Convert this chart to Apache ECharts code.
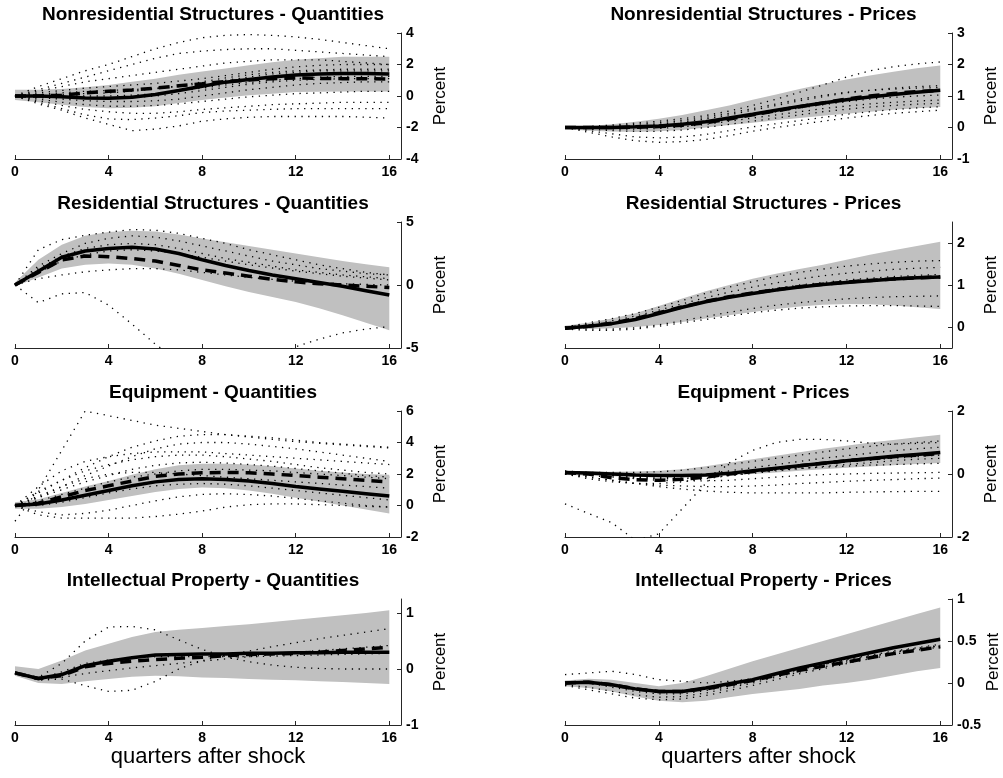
<!DOCTYPE html>
<html>
<head>
<meta charset="utf-8">
<script src="https://cdn.jsdelivr.net/npm/echarts@6/dist/echarts.min.js"></script>
<style>
  html, body { margin: 0; padding: 0; background: #fff; }
  #chart { width: 1003px; height: 778px; }
</style>
</head>
<body>
<div id="chart"></div>
<script>
// Horizon in quarters and tick labels
const quarters = [0,1,2,3,4,5,6,7,8,9,10,11,12,13,14,15,16];
const xTicks = [0, 4, 8, 12, 16];

// ---------- Nonresidential Structures - Quantities ----------
const nsqLow    = [-0.25,-0.4,-0.55,-0.7,-0.77,-0.75,-0.65,-0.45,-0.25,-0.1,0.05,0.15,0.25,0.27,0.28,0.28,0.28];
const nsqHigh   = [0.4,0.4,0.45,0.55,0.7,0.9,1.1,1.35,1.55,1.75,1.95,2.15,2.3,2.4,2.5,2.5,2.5];
const nsqSolid  = [0,0,-0.05,-0.12,-0.15,-0.08,0.1,0.35,0.62,0.88,1.05,1.2,1.33,1.4,1.43,1.43,1.4];
const nsqDashed = [0,0,0.05,0.2,0.3,0.38,0.5,0.65,0.78,0.92,1.02,1.1,1.15,1.12,1.1,1.1,1.07];
const nsqDotted = [
  [0,0.6,1.1,1.6,2.0,2.5,3.0,3.4,3.7,3.85,3.9,3.85,3.75,3.6,3.4,3.2,3.0],
  [0,0.4,0.8,1.2,1.6,2.0,2.4,2.7,2.85,2.95,3.0,3.0,2.9,2.8,2.7,2.6,2.5],
  [0,0.3,0.6,0.9,1.1,1.3,1.5,1.7,1.9,2.1,2.2,2.3,2.3,2.3,2.2,2.1,2.0],
  [0,0.2,0.35,0.5,0.6,0.7,0.8,0.95,1.1,1.3,1.5,1.7,1.85,1.95,2.0,2.0,2.0],
  [0,0.1,0.2,0.3,0.35,0.4,0.5,0.6,0.8,1.0,1.2,1.4,1.5,1.6,1.6,1.6,1.6],
  [0,0.05,0.1,0.15,0.2,0.3,0.45,0.65,0.9,1.15,1.35,1.5,1.6,1.65,1.7,1.7,1.7],
  [0,0,0,0,0,0.05,0.15,0.3,0.5,0.7,0.85,1.0,1.1,1.2,1.25,1.25,1.25],
  [0,-0.05,-0.1,-0.15,-0.15,-0.1,0,0.15,0.35,0.55,0.75,0.9,1.0,1.05,1.1,1.1,1.1],
  [0,-0.1,-0.2,-0.3,-0.35,-0.35,-0.3,-0.2,0,0.2,0.4,0.55,0.7,0.8,0.85,0.9,0.9],
  [0,-0.2,-0.4,-0.55,-0.65,-0.65,-0.6,-0.5,-0.35,-0.2,-0.05,0.05,0.15,0.2,0.25,0.3,0.3],
  [0,-0.3,-0.6,-0.85,-1.0,-1.1,-1.1,-1.0,-0.85,-0.75,-0.65,-0.55,-0.5,-0.45,-0.4,-0.4,-0.4],
  [0,-0.4,-0.8,-1.2,-1.45,-1.5,-1.4,-1.25,-1.05,-0.95,-0.9,-0.85,-0.8,-0.8,-0.8,-0.8,-0.8],
  [0,-0.5,-0.9,-1.4,-1.8,-2.2,-2.1,-1.9,-1.6,-1.45,-1.35,-1.3,-1.3,-1.3,-1.3,-1.35,-1.4]
];
const nsqYTicks = [-4, -2, 0, 2, 4];

// ---------- Nonresidential Structures - Prices ----------
const nspLow    = [-0.05,-0.1,-0.13,-0.14,-0.12,-0.08,0,0.08,0.15,0.23,0.3,0.37,0.44,0.5,0.56,0.61,0.65];
const nspHigh   = [0.02,0.05,0.1,0.18,0.28,0.4,0.55,0.7,0.88,1.05,1.22,1.38,1.52,1.65,1.77,1.88,1.97];
const nspSolid  = [0,0,0,0.02,0.05,0.1,0.18,0.3,0.42,0.55,0.67,0.78,0.88,0.97,1.05,1.12,1.18];
const nspDashed = [0,0,0,0.01,0.03,0.07,0.15,0.27,0.4,0.53,0.66,0.78,0.9,1.0,1.08,1.14,1.18];
const nspDotted = [
  [0,0.03,0.08,0.14,0.2,0.28,0.38,0.52,0.7,0.9,1.12,1.35,1.6,1.8,1.93,2.02,2.08],
  [0,0.02,0.05,0.1,0.15,0.22,0.32,0.45,0.6,0.75,0.9,1.02,1.12,1.18,1.22,1.25,1.27],
  [0,0,0.02,0.05,0.1,0.17,0.27,0.4,0.55,0.7,0.85,0.98,1.1,1.18,1.25,1.3,1.33],
  [0,0,0,0.02,0.05,0.1,0.17,0.27,0.38,0.5,0.62,0.72,0.82,0.9,0.96,1.0,1.03],
  [0,-0.03,-0.05,-0.05,-0.03,0.02,0.1,0.2,0.3,0.4,0.5,0.6,0.68,0.75,0.8,0.84,0.87],
  [0,-0.05,-0.1,-0.12,-0.12,-0.08,0,0.1,0.2,0.3,0.4,0.5,0.58,0.65,0.7,0.74,0.77],
  [0,-0.1,-0.2,-0.3,-0.33,-0.3,-0.22,-0.1,0.02,0.12,0.22,0.32,0.42,0.5,0.57,0.62,0.66],
  [0,-0.15,-0.3,-0.42,-0.47,-0.45,-0.38,-0.26,-0.12,0,0.1,0.2,0.3,0.38,0.45,0.5,0.55]
];
const nspYTicks = [-1, 0, 1, 2, 3];

// ---------- Residential Structures - Quantities ----------
const rsqLow    = [-0.1,0.6,1.3,1.6,1.7,1.6,1.3,0.9,0.4,-0.1,-0.55,-0.95,-1.35,-1.85,-2.4,-3.0,-3.6];
const rsqHigh   = [0.2,2.0,3.2,3.9,4.2,4.3,4.25,4.0,3.7,3.4,3.1,2.8,2.5,2.2,1.9,1.65,1.4];
const rsqSolid  = [0,1.1,2.2,2.7,2.9,3.0,2.85,2.5,2.0,1.55,1.15,0.8,0.5,0.2,-0.1,-0.45,-0.8];
const rsqDashed = [0,1.0,2.0,2.3,2.25,2.1,1.9,1.55,1.2,0.95,0.7,0.45,0.25,0.1,0.0,-0.1,-0.2];
const rsqDotted = [
  [0,2.8,3.6,3.95,4.2,4.4,4.35,4.1,3.7,3.3,2.8,2.4,2.0,1.6,1.3,1.0,0.8],
  [0,1.5,2.5,3.3,3.7,3.9,3.8,3.5,3.1,2.7,2.3,1.9,1.6,1.3,1.1,0.9,0.8],
  [0,1.3,2.3,2.9,3.2,3.3,3.2,2.9,2.5,2.1,1.8,1.5,1.2,1.0,0.8,0.65,0.5],
  [0,1.0,1.9,2.4,2.7,2.8,2.7,2.5,2.2,1.9,1.6,1.35,1.1,0.9,0.7,0.55,0.4],
  [0,0.5,0.8,1.05,1.2,1.3,1.3,1.2,1.0,0.8,0.6,0.45,0.3,0.2,0.1,0.05,0.0],
  [0,-1.4,-0.7,-0.6,-1.6,-3.1,-4.7,-6.0,-6.8,-7.0,-6.6,-5.8,-4.9,-4.3,-3.8,-3.5,-3.3]
];
const rsqYTicks = [-5, 0, 5];

// ---------- Residential Structures - Prices ----------
const rspLow    = [-0.05,-0.05,-0.03,0,0.05,0.12,0.2,0.28,0.36,0.43,0.49,0.53,0.55,0.54,0.51,0.47,0.43];
const rspHigh   = [0.03,0.1,0.2,0.33,0.5,0.68,0.85,1.0,1.15,1.27,1.38,1.48,1.6,1.72,1.83,1.93,2.03];
const rspSolid  = [-0.03,0.02,0.08,0.18,0.32,0.47,0.6,0.71,0.8,0.88,0.95,1.01,1.06,1.1,1.14,1.17,1.19];
const rspDashed = [-0.03,0.02,0.09,0.2,0.34,0.48,0.61,0.72,0.81,0.89,0.96,1.02,1.07,1.11,1.14,1.17,1.19];
const rspDotted = [
  [0,0.1,0.2,0.32,0.47,0.63,0.8,0.95,1.08,1.2,1.3,1.38,1.45,1.5,1.54,1.57,1.58],
  [0,0.07,0.15,0.26,0.4,0.55,0.7,0.83,0.95,1.05,1.14,1.22,1.28,1.33,1.37,1.4,1.42],
  [0,0.04,0.1,0.2,0.33,0.47,0.6,0.72,0.83,0.92,1.0,1.06,1.12,1.16,1.2,1.23,1.25],
  [-0.03,-0.05,-0.05,-0.02,0.05,0.15,0.25,0.35,0.44,0.52,0.58,0.63,0.67,0.7,0.72,0.73,0.74],
  [-0.05,-0.08,-0.08,-0.05,0.02,0.1,0.18,0.26,0.34,0.4,0.45,0.48,0.5,0.51,0.51,0.5,0.49]
];
const rspYTicks = [0, 1, 2];

// ---------- Equipment - Quantities ----------
const eqqLow    = [-0.2,-0.2,-0.1,0.1,0.35,0.6,0.85,1.05,1.15,1.1,0.95,0.75,0.5,0.25,0.0,-0.25,-0.5];
const eqqHigh   = [0.2,0.4,0.8,1.2,1.55,1.95,2.3,2.55,2.65,2.65,2.6,2.5,2.35,2.2,2.1,2.0,1.95];
const eqqSolid  = [0,0.1,0.35,0.65,0.95,1.25,1.5,1.65,1.7,1.65,1.55,1.4,1.2,1.05,0.9,0.75,0.6];
const eqqDashed = [0,0.15,0.55,0.95,1.25,1.55,1.85,2.0,2.08,2.1,2.08,2.0,1.9,1.8,1.7,1.6,1.5];
const eqqDotted = [
  [-1.0,1.0,3.5,6.0,5.7,5.4,5.1,4.9,4.7,4.5,4.35,4.2,4.05,3.95,3.85,3.75,3.65],
  [0,0.8,1.6,2.4,3.1,3.7,4.1,4.4,4.5,4.5,4.4,4.3,4.15,4.0,3.9,3.8,3.7],
  [0,0.6,1.2,1.9,2.5,3.1,3.6,3.9,4.0,4.0,3.9,3.75,3.6,3.4,3.2,3.0,2.8],
  [0,1.2,2.2,2.8,3.1,3.3,3.4,3.4,3.4,3.3,3.2,3.1,3.0,2.9,2.8,2.7,2.6],
  [0,0.9,1.6,2.2,2.6,2.9,3.1,3.2,3.2,3.1,2.95,2.8,2.6,2.4,2.25,2.1,2.0],
  [0,0.5,1.0,1.5,1.9,2.3,2.55,2.7,2.75,2.7,2.6,2.5,2.35,2.2,2.05,1.9,1.8],
  [0,0.3,0.7,1.1,1.5,1.8,2.0,2.2,2.3,2.3,2.25,2.2,2.1,2.0,1.9,1.8,1.7],
  [0,0.5,1.2,1.7,2.0,2.1,2.1,2.0,1.9,1.8,1.7,1.6,1.5,1.4,1.3,1.2,1.1],
  [0,0.0,0.2,0.5,0.8,1.05,1.25,1.35,1.4,1.35,1.25,1.1,0.95,0.8,0.65,0.5,0.35],
  [0,-0.4,-0.6,-0.5,-0.3,0.0,0.3,0.55,0.7,0.75,0.7,0.6,0.45,0.3,0.15,0.0,-0.1],
  [0,-0.6,-0.8,-0.8,-0.8,-0.8,-0.7,-0.55,-0.35,-0.1,0.05,0.1,0.1,0.05,0.0,-0.05,-0.1]
];
const eqqYTicks = [-2, 0, 2, 4, 6];

// ---------- Equipment - Prices ----------
const eqpLow    = [-0.03,-0.05,-0.07,-0.09,-0.1,-0.1,-0.08,-0.04,0,0.05,0.1,0.15,0.2,0.24,0.28,0.32,0.35];
const eqpHigh   = [0.07,0.07,0.07,0.08,0.1,0.15,0.25,0.36,0.47,0.58,0.69,0.8,0.9,1.0,1.08,1.17,1.25];
const eqpSolid  = [0.05,0.03,0,-0.03,-0.05,-0.05,-0.03,0.02,0.1,0.18,0.26,0.34,0.42,0.49,0.56,0.62,0.68];
const eqpDashed = [0.05,0,-0.12,-0.18,-0.2,-0.17,-0.1,0,0.08,0.17,0.26,0.34,0.42,0.48,0.55,0.6,0.65];
const eqpDotted = [
  [-0.95,-1.25,-1.55,-2.1,-1.9,-1.1,-0.3,0.35,0.75,1.0,1.1,1.1,1.05,0.98,0.95,0.97,1.0],
  [0.05,0.05,0.05,0.05,0.07,0.12,0.2,0.3,0.4,0.5,0.6,0.7,0.8,0.88,0.95,1.0,1.05],
  [0.05,0.02,-0.03,-0.07,-0.08,-0.06,0,0.1,0.2,0.3,0.4,0.5,0.58,0.66,0.74,0.8,0.85],
  [0,-0.05,-0.1,-0.12,-0.12,-0.1,-0.05,0.02,0.1,0.18,0.25,0.32,0.38,0.44,0.5,0.55,0.6],
  [0.02,0,-0.05,-0.1,-0.15,-0.15,-0.12,-0.05,0.02,0.1,0.17,0.24,0.3,0.36,0.42,0.47,0.5],
  [0,-0.15,-0.25,-0.3,-0.3,-0.25,-0.15,-0.05,0.05,0.12,0.18,0.22,0.25,0.28,0.3,0.32,0.34],
  [0.1,0.05,-0.05,-0.15,-0.2,-0.22,-0.22,-0.2,-0.15,-0.1,-0.05,-0.02,0,0.02,0.03,0.04,0.05],
  [0,-0.1,-0.2,-0.3,-0.35,-0.38,-0.4,-0.4,-0.38,-0.35,-0.3,-0.27,-0.23,-0.2,-0.18,-0.15,-0.13],
  [0,-0.1,-0.2,-0.3,-0.4,-0.48,-0.54,-0.58,-0.6,-0.6,-0.6,-0.6,-0.58,-0.57,-0.56,-0.55,-0.55]
];
const eqpYTicks = [-2, 0, 2];

// ---------- Intellectual Property - Quantities ----------
const ipqLow    = [-0.12,-0.25,-0.27,-0.22,-0.18,-0.14,-0.12,-0.13,-0.15,-0.16,-0.18,-0.19,-0.2,-0.22,-0.23,-0.25,-0.27];
const ipqHigh   = [0.05,0.0,0.15,0.33,0.45,0.57,0.66,0.7,0.73,0.77,0.8,0.84,0.88,0.92,0.96,1.0,1.05];
const ipqSolid  = [-0.07,-0.17,-0.1,0.06,0.14,0.2,0.25,0.26,0.27,0.27,0.28,0.28,0.29,0.29,0.3,0.3,0.3];
const ipqDashed = [-0.07,-0.17,-0.12,0.04,0.1,0.14,0.17,0.19,0.21,0.24,0.26,0.27,0.28,0.3,0.33,0.36,0.39];
const ipqDotted = [
  [-0.05,-0.15,0.1,0.5,0.75,0.76,0.7,0.52,0.35,0.22,0.13,0.07,0.03,0.01,0,0,0],
  [-0.07,-0.2,-0.18,-0.3,-0.4,-0.38,-0.22,0,0.15,0.25,0.32,0.4,0.47,0.54,0.6,0.66,0.72],
  [-0.07,-0.18,-0.15,-0.08,-0.03,0.02,0.06,0.1,0.14,0.18,0.22,0.26,0.3,0.33,0.36,0.39,0.42],
  [-0.07,-0.18,-0.05,0.1,0.16,0.2,0.22,0.22,0.22,0.22,0.22,0.23,0.24,0.25,0.26,0.27,0.28]
];
const ipqYTicks = [-1, 0, 1];

// ---------- Intellectual Property - Prices ----------
const ippLow    = [-0.04,-0.06,-0.1,-0.16,-0.21,-0.23,-0.21,-0.17,-0.13,-0.1,-0.07,-0.03,0,0.04,0.09,0.14,0.18];
const ippHigh   = [0.03,0.05,0.04,0,-0.04,0,0.08,0.17,0.26,0.34,0.42,0.5,0.58,0.66,0.74,0.82,0.9];
const ippSolid  = [0,0.01,-0.02,-0.07,-0.1,-0.1,-0.06,-0.01,0.04,0.11,0.18,0.24,0.3,0.36,0.42,0.47,0.52];
const ippDashed = [0,0.01,-0.02,-0.07,-0.1,-0.1,-0.07,-0.02,0.03,0.09,0.15,0.2,0.25,0.3,0.35,0.39,0.43];
const ippDotted = [
  [0.1,0.12,0.14,0.1,0.04,0.02,0,0.02,0.05,0.1,0.16,0.22,0.28,0.33,0.38,0.42,0.46],
  [-0.03,-0.08,-0.13,-0.18,-0.2,-0.19,-0.15,-0.09,-0.03,0.04,0.11,0.17,0.23,0.29,0.34,0.39,0.43],
  [-0.02,-0.05,-0.1,-0.14,-0.17,-0.16,-0.12,-0.06,0,0.07,0.13,0.19,0.25,0.31,0.36,0.41,0.45],
  [0,0,-0.05,-0.1,-0.13,-0.13,-0.09,-0.04,0.02,0.09,0.16,0.22,0.27,0.32,0.37,0.41,0.44]
];
const ippYTicks = [-0.5, 0, 0.5, 1];

// Panel layout: [title, low, high, solid, dashed, dotted, yMin, yMax, yTicks, column, row]
const panels = [
  ['Nonresidential Structures - Quantities', nsqLow, nsqHigh, nsqSolid, nsqDashed, nsqDotted, -4, 4, nsqYTicks, 0, 0],
  ['Nonresidential Structures - Prices', nspLow, nspHigh, nspSolid, nspDashed, nspDotted, -1, 3, nspYTicks, 1, 0],
  ['Residential Structures - Quantities', rsqLow, rsqHigh, rsqSolid, rsqDashed, rsqDotted, -5, 5, rsqYTicks, 0, 1],
  ['Residential Structures - Prices', rspLow, rspHigh, rspSolid, rspDashed, rspDotted, -0.5, 2.5, rspYTicks, 1, 1],
  ['Equipment - Quantities', eqqLow, eqqHigh, eqqSolid, eqqDashed, eqqDotted, -2, 6, eqqYTicks, 0, 2],
  ['Equipment - Prices', eqpLow, eqpHigh, eqpSolid, eqpDashed, eqpDotted, -2, 2, eqpYTicks, 1, 2],
  ['Intellectual Property - Quantities', ipqLow, ipqHigh, ipqSolid, ipqDashed, ipqDotted, -1, 1.25, ipqYTicks, 0, 3],
  ['Intellectual Property - Prices', ippLow, ippHigh, ippSolid, ippDashed, ippDotted, -0.5, 1, ippYTicks, 1, 3]
];

const FONT = 'Liberation Sans, Arial, Helvetica, sans-serif';
const AXIS_COLOR = '#262626';
const colLeft = [15, 565];
const colWidth = [386, 387];
const rowTop = [33, 222, 411, 599];
const plotHeight = 126;

const grids = [], xAxes = [], yAxes = [], titles = [], series = [];

panels.forEach((p, i) => {
  const [title, low, high, solid, dashed, dotted, yMin, yMax, yTicks, col, row] = p;
  const left = colLeft[col], width = colWidth[col], top = rowTop[row];

  grids.push({ left: left, top: top, width: width, height: plotHeight, containLabel: false });

  titles.push({
    text: title,
    left: left + width / 2,
    top: top - 33,
    textAlign: 'center',
    textStyle: { fontFamily: FONT, fontSize: 19, fontWeight: 'bold', color: '#000' }
  });

  xAxes.push({
    gridIndex: i,
    type: 'value',
    min: 0,
    max: 16.5,
    interval: 4,
    position: 'bottom',
    axisLine: { show: true, onZero: false, lineStyle: { color: AXIS_COLOR, width: 1 } },
    axisTick: { show: true, inside: true, length: 4, customValues: xTicks, lineStyle: { color: AXIS_COLOR } },
    axisLabel: { customValues: xTicks, margin: 6, fontFamily: FONT, fontSize: 14, fontWeight: 'bold', color: '#000' },
    splitLine: { show: false },
    name: row === 3 ? 'quarters after shock' : '',
    nameLocation: 'middle',
    nameGap: 11,
    nameTextStyle: { fontFamily: FONT, fontSize: 22, color: '#000', verticalAlign: 'top' }
  });

  yAxes.push({
    gridIndex: i,
    type: 'value',
    min: yMin,
    max: yMax,
    position: 'right',
    axisLine: { show: true, onZero: false, lineStyle: { color: AXIS_COLOR, width: 1 } },
    axisTick: { show: true, inside: true, length: 4, customValues: yTicks, lineStyle: { color: AXIS_COLOR } },
    axisLabel: { customValues: yTicks, margin: 5, fontFamily: FONT, fontSize: 14, fontWeight: 'bold', color: '#000' },
    splitLine: { show: false },
    name: 'Percent',
    nameLocation: 'middle',
    nameRotate: 90,
    nameGap: 31,
    nameTextStyle: { fontFamily: FONT, fontSize: 17, color: '#000' }
  });

  // Shaded band between low and high paths
  series.push({
    type: 'custom',
    xAxisIndex: i,
    yAxisIndex: i,
    silent: true,
    z: 1,
    data: [[0, 0]],
    renderItem: function (params, api) {
      const pts = [];
      quarters.forEach((q, k) => pts.push(api.coord([q, high[k]])));
      for (let k = quarters.length - 1; k >= 0; k--) pts.push(api.coord([quarters[k], low[k]]));
      return { type: 'polygon', shape: { points: pts }, style: { fill: '#c0c0c0', stroke: null } };
    }
  });

  // Thin dotted paths
  dotted.forEach((d) => {
    series.push({
      type: 'line',
      xAxisIndex: i,
      yAxisIndex: i,
      data: quarters.map((q, k) => [q, d[k]]),
      symbol: 'none',
      silent: true,
      clip: true,
      z: 2,
      lineStyle: { color: '#000', width: 1.3, type: [1.3, 5.5], cap: 'butt' }
    });
  });

  // Thick dashed path
  series.push({
    type: 'line',
    xAxisIndex: i,
    yAxisIndex: i,
    data: quarters.map((q, k) => [q, dashed[k]]),
    symbol: 'none',
    silent: true,
    z: 3,
    lineStyle: { color: '#000', width: 3.5, type: [11, 7], cap: 'butt' }
  });

  // Thick solid path
  series.push({
    type: 'line',
    xAxisIndex: i,
    yAxisIndex: i,
    data: quarters.map((q, k) => [q, solid[k]]),
    symbol: 'none',
    silent: true,
    z: 4,
    lineStyle: { color: '#000', width: 3.5 }
  });
});

const chart = echarts.init(document.getElementById('chart'), null, { renderer: 'canvas' });
chart.setOption({
  backgroundColor: '#fff',
  animation: false,
  title: titles,
  grid: grids,
  xAxis: xAxes,
  yAxis: yAxes,
  series: series
});
</script>
</body>
</html>
